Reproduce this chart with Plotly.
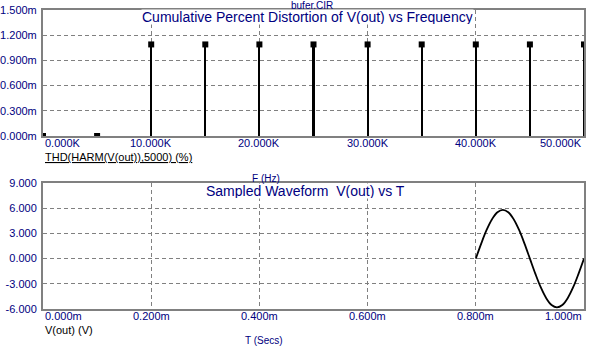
import plotly.graph_objects as go

# ---- data ----
freq_hz = [0, 5000, 10000, 15000, 20000, 25000, 30000, 35000, 40000, 45000, 50000]
thd_m = [0.0, 0.0, 1.09, 1.09, 1.09, 1.09, 1.09, 1.09, 1.09, 1.09, 1.09]

time_ms = [0.80, 0.81, 0.82, 0.83, 0.84, 0.85, 0.86, 0.87, 0.88, 0.89, 0.90,
           0.91, 0.92, 0.93, 0.94, 0.95, 0.96, 0.97, 0.98, 0.99, 1.00]
vout = [0.0, 1.79, 3.41, 4.69, 5.52, 5.80, 5.52, 4.69, 3.41, 1.79, 0.0,
        -1.79, -3.41, -4.69, -5.52, -5.80, -5.52, -4.69, -3.41, -1.79, 0.0]

top_xticks = [0, 10000, 20000, 30000, 40000, 50000]
top_xlabels = ["0.000K", "10.000K", "20.000K", "30.000K", "40.000K", "50.000K"]
top_yticks = [0, 0.3, 0.6, 0.9, 1.2, 1.5]
top_ylabels = ["0.000m", "0.300m", "0.600m", "0.900m", "1.200m", "1.500m"]

bot_xticks = [0, 0.2, 0.4, 0.6, 0.8, 1.0]
bot_xlabels = ["0.000m", "0.200m", "0.400m", "0.600m", "0.800m", "1.000m"]
bot_yticks = [-6, -3, 0, 3, 6, 9]
bot_ylabels = ["-6.000", "-3.000", "0.000", "3.000", "6.000", "9.000"]

NAVY = "#000080"
GRAY = "#808080"
FONT = "Liberation Sans, Arial, sans-serif"

fig = go.Figure()

# stems
fig.add_trace(go.Bar(x=freq_hz, y=thd_m, width=190, marker=dict(color="black", line=dict(width=0)),
                     xaxis="x", yaxis="y", showlegend=False))
fig.add_trace(go.Scatter(x=freq_hz, y=thd_m, mode="markers",
                         marker=dict(symbol="square", size=6, color="black"),
                         xaxis="x", yaxis="y", showlegend=False, cliponaxis=True))
# waveform
fig.add_trace(go.Scatter(x=time_ms, y=vout, mode="lines", line=dict(color="black", width=1.8, shape="spline"),
                         xaxis="x2", yaxis="y2", showlegend=False))

axis_common = dict(showline=True, linecolor=GRAY, linewidth=2, mirror=True, automargin=False,
                   showgrid=True, gridcolor=GRAY, gridwidth=1, griddash="4px,3px",
                   zeroline=False, ticks="", tickfont=dict(family=FONT, size=11, color=NAVY))

fig.update_layout(
    width=589, height=351,
    margin=dict(l=43, r=5, t=10, b=42),
    paper_bgcolor="white", plot_bgcolor="white",
    bargap=0,
    xaxis=dict(domain=[0, 1], anchor="y", range=[0, 50000], tickvals=top_xticks,
               showticklabels=False, **axis_common),
    yaxis=dict(domain=[0.5786, 1], anchor="x", range=[0, 1.5], tickvals=top_yticks,
               ticktext=top_ylabels, ticklabelstandoff=2, **axis_common),
    xaxis2=dict(domain=[0, 1], anchor="y2", range=[0, 1.0], tickvals=bot_xticks,
                showticklabels=False, **axis_common),
    yaxis2=dict(domain=[0, 0.4214], anchor="x2", range=[-6, 9], tickvals=bot_yticks,
                ticktext=bot_ylabels, ticklabelstandoff=2, **axis_common),
)

ann = []
for v, t in zip(top_xticks, top_xlabels):
    xa = "left" if v == top_xticks[0] else ("right" if v == top_xticks[-1] else "center")
    ann.append(dict(x=v, y=0.5552, xref="x", yref="paper", text=t, showarrow=False,
                    xanchor=xa, yanchor="middle", font=dict(family=FONT, size=11, color=NAVY)))
for v, t in zip(bot_xticks, bot_xlabels):
    xa = "left" if v == bot_xticks[0] else ("right" if v == bot_xticks[-1] else "center")
    ann.append(dict(x=v, y=-0.0234, xref="x2", yref="paper", text=t, showarrow=False,
                    xanchor=xa, yanchor="middle", font=dict(family=FONT, size=11, color=NAVY)))

ann += [
    dict(x=0.488, y=0.9766, xref="paper", yref="paper",
         text="Cumulative Percent Distortion of V(out) vs Frequency", showarrow=False,
         xanchor="center", yanchor="middle", bgcolor="white", borderpad=0, height=14,
         font=dict(family=FONT, size=14, color=NAVY)),
    dict(x=0.486, y=0.3946, xref="paper", yref="paper", text="Sampled Waveform  V(out) vs T",
         showarrow=False, xanchor="center", yanchor="middle", bgcolor="white", borderpad=0, height=14,
         font=dict(family=FONT, size=14, color=NAVY)),
    dict(x=0.497, y=1.0167, xref="paper", yref="paper", text="bufer.CIR", showarrow=False,
         xanchor="center", yanchor="middle", font=dict(family=FONT, size=10, color=NAVY)),
    dict(x=0.0, y=0.5084, xref="paper", yref="paper", text="<u>THD(HARM(V(out)),5000) (%)</u>",
         showarrow=False, xanchor="left", yanchor="middle", font=dict(family=FONT, size=11, color="black")),
    dict(x=0.412, y=0.4381, xref="paper", yref="paper", text="F (Hz)", showarrow=False,
         xanchor="center", yanchor="middle", font=dict(family=FONT, size=10, color=NAVY)),
    dict(x=0.0, y=-0.0702, xref="paper", yref="paper", text="V(out) (V)", showarrow=False,
         xanchor="left", yanchor="middle", font=dict(family=FONT, size=11, color="black")),
    dict(x=0.408, y=-0.107, xref="paper", yref="paper", text="T (Secs)", showarrow=False,
         xanchor="center", yanchor="middle", font=dict(family=FONT, size=10, color=NAVY)),
]
fig.update_layout(annotations=ann)

fig.write_html("out.html")
